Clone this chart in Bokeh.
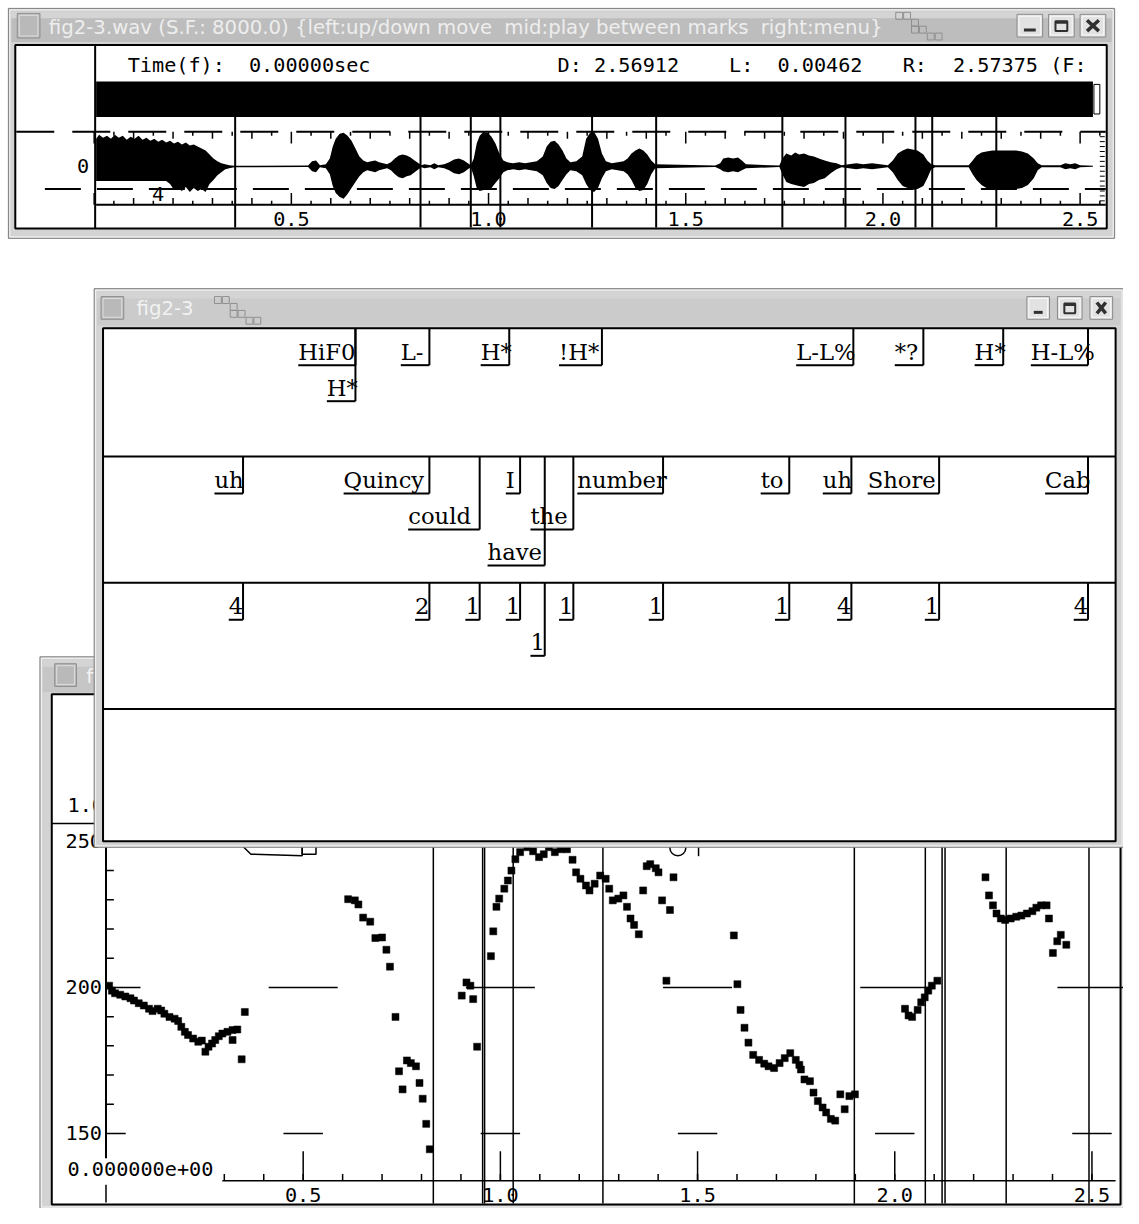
from bokeh.plotting import figure
from bokeh.models import Range1d
from bokeh.core.properties import value
from bokeh.embed import file_html
from bokeh.resources import INLINE

# ======================= DATA =======================
# waveform amplitude envelope: time (s), upper / lower amplitude (x100 counts)
wave_t = [0.005, 0.0125, 0.0225, 0.0325, 0.0425, 0.0525, 0.0625, 0.0725, 0.0825, 0.0925,
          0.1025, 0.1125, 0.1225, 0.1325, 0.1425, 0.1525, 0.1625, 0.1725, 0.1825, 0.1925,
          0.2025, 0.2125, 0.2225, 0.2325, 0.2425, 0.2525, 0.2625, 0.2725, 0.2825, 0.2925,
          0.3025, 0.3125, 0.3225, 0.3325, 0.3425, 0.355,
          0.5425, 0.5525, 0.5625, 0.5725, 0.5875, 0.5975, 0.605, 0.6125, 0.6225, 0.6325,
          0.6425, 0.6525, 0.6625, 0.6725, 0.6825, 0.6925, 0.7025, 0.7125, 0.7225, 0.7325,
          0.7425, 0.7525, 0.7625, 0.7725, 0.7825, 0.7925, 0.8025, 0.8125, 0.8225, 0.83,
          0.8375, 0.8525, 0.8625, 0.8725, 0.8875, 0.9, 0.9125, 0.925, 0.9375, 0.9475,
          0.955, 0.9625, 0.97, 0.9775, 0.9875, 0.9975, 1.0075, 1.0175, 1.0275, 1.0375,
          1.0475, 1.0625, 1.0775, 1.0925, 1.1075, 1.1225, 1.1375, 1.1475, 1.1575, 1.1675,
          1.1775, 1.1875, 1.1975, 1.2075, 1.2225, 1.2375, 1.2475, 1.2575, 1.2675, 1.2775,
          1.2875, 1.2975, 1.3125, 1.3275, 1.3425, 1.3525, 1.3625, 1.3725, 1.3825, 1.3925,
          1.4025, 1.4125, 1.4225, 1.575, 1.5875, 1.595, 1.6075, 1.62, 1.6325, 1.6425,
          1.6525, 1.7375, 1.745, 1.755, 1.7675, 1.7775, 1.7875, 1.8, 1.8125, 1.825,
          1.8375, 1.8525, 1.8675, 1.8825, 1.895, 1.9325, 1.95, 1.9725, 2.0125, 2.025,
          2.0375, 2.05, 2.0625, 2.075, 2.0875, 2.1025, 2.1125, 2.1225, 2.1325, 2.2175,
          2.2275, 2.2375, 2.25, 2.2625, 2.2775, 2.2925, 2.3075, 2.3225, 2.3375, 2.3525,
          2.3675, 2.3825, 2.3925, 2.4025, 2.45, 2.4625, 2.475, 2.4875, 2.5, 2.5325]
wave_hi = [28, 32, 29, 31, 28, 32, 29, 31, 27, 30,
           28, 31, 27, 29, 26, 28, 25, 27, 24, 26,
           23, 25, 22, 24, 21, 22, 20, 18, 16, 12,
           8, 5, 3, 2, 1, 0.5,
           0.7, 5, 6, 1, 2, 8, 20, 28, 33, 34,
           31, 26, 18, 10, 6, 4, 5, 6, 4, 3,
           2, 4, 8, 11, 12, 11, 9, 6, 3, 1,
           2, 1, 3, 1, 2, 4, 7, 8, 6, 3,
           1, 8, 23, 31, 35, 34, 30, 23, 13, 6,
           4, 3, 4, 3, 4, 5, 10, 20, 25, 26,
           22, 16, 8, 4, 5, 10, 28, 34, 35, 28,
           13, 5, 3, 4, 5, 8, 13, 16, 18, 16,
           12, 6, 2, 0.7, 3, 8, 9, 8, 9, 6,
           2, 0.7, 8, 13, 11, 14, 12, 13, 11, 10,
           8, 6, 4, 3, 1, 3, 2, 3, 1, 6,
           13, 16, 18, 17, 16, 12, 6, 2, 1, 1,
           6, 11, 14, 15, 16, 16, 16, 16, 16, 15,
           13, 8, 3, 1, 1, 3, 2, 3, 1, 0.5]
wave_lo = [-15, -15, -15, -15, -15, -15, -15, -15, -15, -15,
           -15, -15, -15, -15, -15, -15, -15, -15, -15, -18,
           -24, -22, -25, -21, -26, -22, -25, -23, -26, -18,
           -14, -9, -6, -3, -2, -1,
           -0.7, -5, -6, -1, -2, -8, -20, -27, -31, -33,
           -28, -22, -16, -10, -6, -4, -5, -6, -4, -3,
           -2, -4, -8, -11, -12, -10, -9, -6, -3, -1,
           -2, -1, -3, -1, -2, -4, -7, -8, -6, -3,
           -1, -10, -22, -25, -24, -23, -22, -17, -12, -6,
           -4, -3, -4, -3, -4, -5, -9, -17, -22, -23,
           -20, -14, -8, -4, -5, -9, -18, -24, -26, -22,
           -12, -5, -3, -4, -5, -8, -14, -22, -25, -24,
           -18, -8, -2, -0.7, -3, -5, -6, -5, -6, -4,
           -2, -0.7, -8, -16, -18, -19, -20, -21, -18, -17,
           -14, -12, -7, -3, -1, -3, -2, -3, -1, -6,
           -14, -20, -22, -24, -23, -20, -12, -3, -1, -1,
           -8, -14, -19, -22, -23, -24, -24, -23, -23, -22,
           -19, -12, -4, -1, -1, -3, -2, -3, -1, -0.5]

# segment marks (s) shown in the waveform window and in the F0 window
wave_marks = [0.3575, 0.8275, 0.955, 1.03, 1.2625, 1.425, 1.745, 1.905, 2.0825, 2.125, 2.2875]
pitch_marks = [0.83, 0.955, 0.96, 1.0325, 1.26, 1.8975, 2.0775, 2.12, 2.1275, 2.2825, 2.4925]

# label tiers (end times in s, display row)
tone_labels = ["HiF0", "H*", "L-", "H*", "!H*", "L-L%", "*?", "H*", "H-L%"]
tone_times = [0.6425, 0.6425, 0.83, 1.0325, 1.2675, 1.905, 2.0825, 2.285, 2.50]
tone_rows = [1, 2, 1, 1, 1, 1, 1, 1, 1]

word_labels = ["uh", "Quincy", "could", "I", "have", "the", "number", "to", "uh", "Shore", "Cab"]
word_times = [0.3575, 0.83, 0.9575, 1.06, 1.1225, 1.195, 1.4225, 1.7425, 1.90, 2.1225, 2.50]
word_rows = [1, 1, 2, 1, 3, 2, 1, 1, 1, 1, 1]

break_labels = ["4", "2", "1", "1", "1", "1", "1", "1", "4", "1", "4"]
break_times = [0.3575, 0.83, 0.9575, 1.06, 1.1225, 1.195, 1.4225, 1.7425, 1.90, 2.1225, 2.50]
break_rows = [1, 1, 1, 1, 2, 1, 1, 1, 1, 1, 1]

# F0 track (s, Hz)
f0_t = [0.008, 0.015, 0.023, 0.036, 0.049, 0.062, 0.071, 0.083, 0.096, 0.109,
        0.118, 0.131, 0.140, 0.148, 0.161, 0.174, 0.183, 0.191, 0.200, 0.208,
        0.221, 0.234, 0.243, 0.252, 0.260, 0.269, 0.277, 0.286, 0.295, 0.308,
        0.321, 0.333, 0.321, 0.344, 0.352,
        0.614, 0.631, 0.640, 0.652, 0.670, 0.683, 0.700, 0.711, 0.720, 0.734,
        0.743, 0.752, 0.763, 0.773, 0.786, 0.795, 0.803, 0.812, 0.821,
        0.902, 0.914, 0.924, 0.931, 0.941, 0.976, 0.982, 0.990, 0.997, 1.010,
        1.019, 1.028, 1.038, 1.050, 1.068, 1.083, 1.098, 1.110, 1.123, 1.138,
        1.153, 1.169, 1.183, 1.192, 1.203, 1.217, 1.226, 1.239, 1.253, 1.267,
        1.276, 1.285, 1.299, 1.312, 1.321, 1.330, 1.339, 1.351,
        1.362, 1.371, 1.380, 1.394, 1.401, 1.410, 1.430, 1.439, 1.421,
        1.592, 1.601, 1.609, 1.619, 1.629, 1.641, 1.656, 1.669, 1.680, 1.694,
        1.708, 1.721, 1.735, 1.749, 1.758, 1.762, 1.771, 1.785, 1.794, 1.805,
        1.817, 1.826, 1.838, 1.849, 1.862, 1.873, 1.885, 1.899,
        2.026, 2.035, 2.044, 2.058, 2.067, 2.076, 2.085, 2.094, 2.108,
        2.230, 2.239, 2.249, 2.258, 2.269, 2.280, 2.294, 2.308, 2.321, 2.335,
        2.349, 2.359, 2.371, 2.385, 2.391, 2.401, 2.412, 2.421, 2.435]
f0_hz = [200.6, 198.9, 198.0, 197.5, 196.9, 196.3, 195.5, 194.6, 193.8, 192.7,
         191.9, 192.7, 192.1, 191.0, 189.9, 189.3, 188.5, 186.5, 184.8, 183.7,
         182.5, 181.4, 181.8, 178.0, 179.7, 180.8, 182.0, 183.3, 184.2, 184.8,
         185.4, 185.6, 182.0, 175.4, 191.6,
         230.2, 229.8, 228.4, 223.9, 222.5, 216.9, 217.1, 212.9, 207.1, 189.9,
         171.3, 165.1, 175.0, 174.1, 173.0, 167.3, 161.9, 153.3, 144.6,
         197.2, 201.7, 200.6, 196.0, 179.7, 210.7, 219.2, 227.6, 230.4, 233.8,
         236.6, 240.0, 243.9, 246.3, 248.0, 246.6, 244.6, 245.6, 248.0, 246.3,
         247.3, 247.3, 243.7, 239.4, 237.2, 234.9, 233.2, 235.5, 238.3, 237.2,
         233.8, 229.8, 230.4, 231.5, 227.6, 223.6, 221.4, 218.2,
         233.2, 241.5, 242.2, 240.8, 239.4, 229.8, 226.5, 237.7, 202.3,
         217.8, 201.1, 192.3, 186.2, 181.1, 176.9, 175.2, 173.9, 173.0, 172.4,
         174.1, 175.8, 177.5, 175.2, 173.5, 171.9, 168.5, 167.9, 164.0, 161.1,
         158.9, 157.2, 155.0, 154.4, 163.4, 158.3, 162.8, 163.4,
         192.7, 190.4, 189.9, 192.3, 194.9, 196.6, 198.9, 200.6, 202.3,
         237.7, 231.5, 228.1, 225.3, 223.6, 223.1, 223.6, 224.2, 224.6, 225.3,
         226.1, 227.3, 228.1, 228.1, 223.6, 211.8, 215.8, 218.0, 214.6]

time_ticks = [0.5, 1.0, 1.5, 2.0, 2.5]
time_tick_labels = ["0.5", "1.0", "1.5", "2.0", "2.5"]
hz_ticks = [150, 200, 250]
hz_tick_labels = ["150", "200", "250"]
hz_minor = [160, 170, 180, 190, 210, 220, 230, 240]

title_wav = ["fig2-3.wav (S.F.: 8000.0) {left:up/down move", "mid:play between marks", "right:menu}"]
title_lab = "fig2-3"
title_f0 = "fig2-3.f0"
status_texts = ["Time(f):", "0.00000sec", "D: 2.56912", "L:", "0.00462", "R:", "2.57375 (F:"]
wave_axis_labels = ["0", "4"]
f0_extra_labels = ["1.000000e+00", "0.000000e+00"]

# ======================= LAYOUT =======================
# the canvas shows the whole 1139 x 1224 screen, slightly reduced to fit the page
PX0, PX1, PY0, PY1 = 0, 1139, 0, 1224
CW, CH = 1123, 1208
S = CW / (PX1 - PX0)                          # font scale
WAV_X0, WAV_PPS, WAV_Y0 = 95, 400.0, 168      # waveform: px of t=0, px/s, px of amp 0
LAB_X0, LAB_PPS = 103, 400.0                  # label window
F0_X0, F0_PPS, F0_Y200, F0_PPH = 107, 400.0, 1000, 2.96
CHAR_W = 14.5                                  # label underline width per character
MONO, SERIF, SANS = "DejaVu Sans Mono", "DejaVu Serif", "DejaVu Sans"

p = figure(width=CW, height=CH,
           x_range=Range1d(PX0, PX1), y_range=Range1d(PY1, PY0),
           x_axis_type=None, y_axis_type=None,
           output_backend="svg", toolbar_location=None, min_border=0)
p.grid.visible = False
p.outline_line_color = None
p.background_fill_color = "white"
p.border_fill_color = "white"

p.extra_x_ranges = {
    "wt": Range1d((PX0 - WAV_X0) / WAV_PPS, (PX1 - WAV_X0) / WAV_PPS),
    "lt": Range1d((PX0 - LAB_X0) / LAB_PPS, (PX1 - LAB_X0) / LAB_PPS),
    "ft": Range1d((PX0 - F0_X0) / F0_PPS, (PX1 - F0_X0) / F0_PPS),
}
p.extra_y_ranges = {
    "wa": Range1d(WAV_Y0 - PY1, WAV_Y0 - PY0),
    "hz": Range1d(200 - (PY1 - F0_Y200) / F0_PPH, 200 + (F0_Y200 - PY0) / F0_PPH),
}


def L(v):
    return v if isinstance(v, list) else [v]


def seg(x0, y0, x1, y1, xr="default", yr="default", color="black", width=1.0, dash="solid"):
    p.segment(x0=L(x0), y0=L(y0), x1=L(x1), y1=L(y1),
              x_range_name=xr, y_range_name=yr, line_color=color, line_width=width,
              line_dash=dash)


def txt(xs, ys, strs, size, font, color="black", align="left", baseline="middle",
        xr="default", yr="default", xoff=0, yoff=0):
    p.text(x=L(xs), y=L(ys), text=L(strs), x_range_name=xr, y_range_name=yr,
           text_font=value(font), text_font_size=value(f"{size * S:.2f}px"), text_color=color,
           text_align=align, text_baseline=baseline, x_offset=xoff, y_offset=yoff)


def box(l, t, r, b, fill, line=None, width=1.0):
    p.quad(left=[l], right=[r], top=[t], bottom=[b], fill_color=fill,
           line_color=line, line_width=width)


def window(outer, title_bottom, content, title_fill):
    l, t, r, b = outer
    box(l, t, r, b, "#d3d3d3", "#7c7c7c", 1)
    box(l + 1.5, t + 1.5, r - 1.5, b - 1.5, None, "#f4f4f4", 1)
    box(l + 3, t + 3, r - 3, title_bottom, title_fill)
    box(l + 3, t + 3, r - 3, t + 10, "#d4d4d4")
    cl, ct, cr, cb = content
    box(cl, ct, cr, cb, "white", "black", 2)


def icon_box(l, t, r, b):
    box(l, t, r, b, "#b9b9b9", "#8e8e8e", 1)
    box(l + 2, t + 2, r - 2, b - 2, None, "#dedede", 1)


def buttons(xs, t, b):
    for (l, r) in xs:
        box(l, t, r, b, "#e2e2e2", "#8a8a8a", 1)
        box(l + 2, t + 2, r - 2, b - 2, None, "#f8f8f8", 1)
    (l, r) = xs[0]
    seg(l + 7, b - 7, r - 7, b - 7, width=3, color="#303030")
    (l, r) = xs[1]
    box(l + 7, t + 7, r - 7, b - 6, None, "#303030", 2)
    seg(l + 7, t + 8, r - 7, t + 8, width=3, color="#303030")
    (l, r) = xs[2]
    seg([l + 7, l + 7], [t + 6, b - 6], [r - 7, r - 7], [b - 6, t + 6], width=3.5, color="#303030")


def stairs(x, y):
    xs = [x, x + 8, x + 16, x + 16, x + 24, x + 32, x + 40]
    ys = [y, y, y + 7, y + 14, y + 14, y + 21, y + 21]
    for a, c in zip(xs, ys):
        box(a, c, a + 7, c + 7, None, "#8f8f8f", 1)


# ======================= WINDOW 3 : F0 (behind) =======================
window((40, 665, 1139, 1224), 701, (52, 703, 1136, 1220), "#c6c6c6")
icon_box(55, 672, 77, 695)
txt(87, 685, title_f0, 20, SANS, color="#f2f2f2")
seg(52, 834, 1136, 834, width=1.5)
txt(68, 815, f0_extra_labels[0], 20.5, MONO)

# y axis
seg(0, 141.5, 0, 262, xr="ft", yr="hz", width=2)
seg([0] * len(hz_minor), hz_minor, [8 / F0_PPS] * len(hz_minor), hz_minor, xr="ft", yr="hz", width=1.5)
txt([0] * 3, hz_ticks, hz_tick_labels, 20.5, MONO, align="right", xr="ft", yr="hz", xoff=-4)
# reticle marks at each labelled second / Hz
cross_t = [0.0] + time_ticks
for hz, half in ((150, 0.05), (200, 0.0875), (250, 0.0875)):
    seg([max(0.0, c - half) for c in cross_t], [hz] * len(cross_t),
        [c + half for c in cross_t], [hz] * len(cross_t), xr="ft", yr="hz", width=1.5)

# partly hidden traces at the top of the F0 panel
p.line(x=[245.5, 254, 306, 306], y=[856.7, 865, 866.7, 856.7], line_color="black", line_width=1.5)
box(306, 857, 320, 865, None, "black", 1.5)
p.ellipse(x=[687], y=[859], width=[16], height=[15], fill_color=None, line_color="black", line_width=1.5)
seg(708, 853, 708, 867, width=1.5)

# bottom time axis
seg(0.295, 1196, 2.56, 1196, xr="ft", width=1.5)
minor = [round(0.1 * i, 2) for i in range(3, 26)]
seg(minor, [1196] * len(minor), minor, [1189] * len(minor), xr="ft", width=1.5)
seg(time_ticks, [1196] * 5, time_ticks, [1166] * 5, xr="ft", width=1.5)
seg(0, 1200, 0, 1218, xr="ft", width=1.5)
txt(time_ticks, [1210] * 5, time_tick_labels, 20.5, MONO, align="center", xr="ft")
txt(68, 1184, f0_extra_labels[1], 20.5, MONO)

# segment marks
seg(pitch_marks, [845] * len(pitch_marks), pitch_marks, [1219] * len(pitch_marks), xr="ft", width=1.5)

# F0 points
p.scatter(x=f0_t, y=f0_hz, x_range_name="ft", y_range_name="hz", marker="square",
          size=7, fill_color="black", line_color="black", line_width=0.5)

# ======================= WINDOW 2 : labels =======================
window((95, 292, 1139, 858), 329, (104, 332, 1131, 852), "#cbcbcb")
icon_box(102, 300, 125, 323)
txt(138, 312, title_lab, 20, SANS, color="#f2f2f2")
stairs(217, 300)
buttons([(1041, 1064), (1072, 1097), (1105, 1128)], 300, 323)

tier_tops = [332, 462, 590]
seg([104] * 3, [462, 590, 718], [1131] * 3, [462, 590, 718], width=2)
for top, labs, times, rows in ((tier_tops[0], tone_labels, tone_times, tone_rows),
                               (tier_tops[1], word_labels, word_times, word_rows),
                               (tier_tops[2], break_labels, break_times, break_rows)):
    ul = [top + 37.5 + 36.5 * (r - 1) for r in rows]
    left = [t - CHAR_W * len(s) / LAB_PPS for t, s in zip(times, labs)]
    seg(times, [top] * len(times), times, ul, xr="lt", width=2)
    seg(left, ul, times, ul, xr="lt", width=2)
    txt(left, [u - 13.5 for u in ul], labs, 23, SERIF, baseline="middle", xr="lt")

# ======================= WINDOW 1 : waveform =======================
window((8, 8, 1130, 241), 42, (15, 45, 1122, 231), "#bdbdbd")
icon_box(17, 13, 40, 38)
txt([49, 511, 771], [27] * 3, title_wav, 20, SANS, color="#eeeeee")
stairs(908, 12)
buttons([(1031, 1057), (1063, 1089), (1095, 1121)], 14, 37)

# status strip
txt([129, 252, 565, 739, 788, 915, 966], [65] * 7, status_texts, 20.5, MONO)
seg(96, 45, 96, 231, width=2)
box(97, 82, 1108, 118, "black")
box(1109, 85, 1115, 115, "white", "black", 1)

# reticle lines
seg(16, 133, 1121, 133, width=2, dash="38 18")
seg(45, 191, 1121, 191, width=2, dash="36 16")
ticks = [round(0.05 * i, 3) for i in range(0, 52)]
tlen = [12 if i % 10 == 0 else (7 if i % 2 == 0 else 4) for i in range(0, 52)]
seg(ticks, [133] * len(ticks), ticks, [133 + k for k in tlen], xr="wt", width=1.5)
seg(ticks, [207] * len(ticks), ticks, [207 - k for k in tlen], xr="wt", width=1.5)
amp_ticks = [a for a in range(-35, 40, 5)]
seg([1115] * len(amp_ticks), amp_ticks, [1120] * len(amp_ticks), amp_ticks, yr="wa", width=1)
seg(97, 207, 1121, 207, width=2)

# waveform
p.varea(x=wave_t, y1=wave_lo, y2=wave_hi, x_range_name="wt", y_range_name="wa", fill_color="black")
txt([90, 166], [168, 196], wave_axis_labels, 20.5, MONO, align="right")

# marks and time labels
seg(wave_marks, [118] * len(wave_marks), wave_marks, [230] * len(wave_marks), xr="wt", width=2)
txt(time_ticks, [221] * 5, time_tick_labels, 20.5, MONO, align="center", xr="wt")

open("out.html", "w").write(file_html(p, INLINE))
